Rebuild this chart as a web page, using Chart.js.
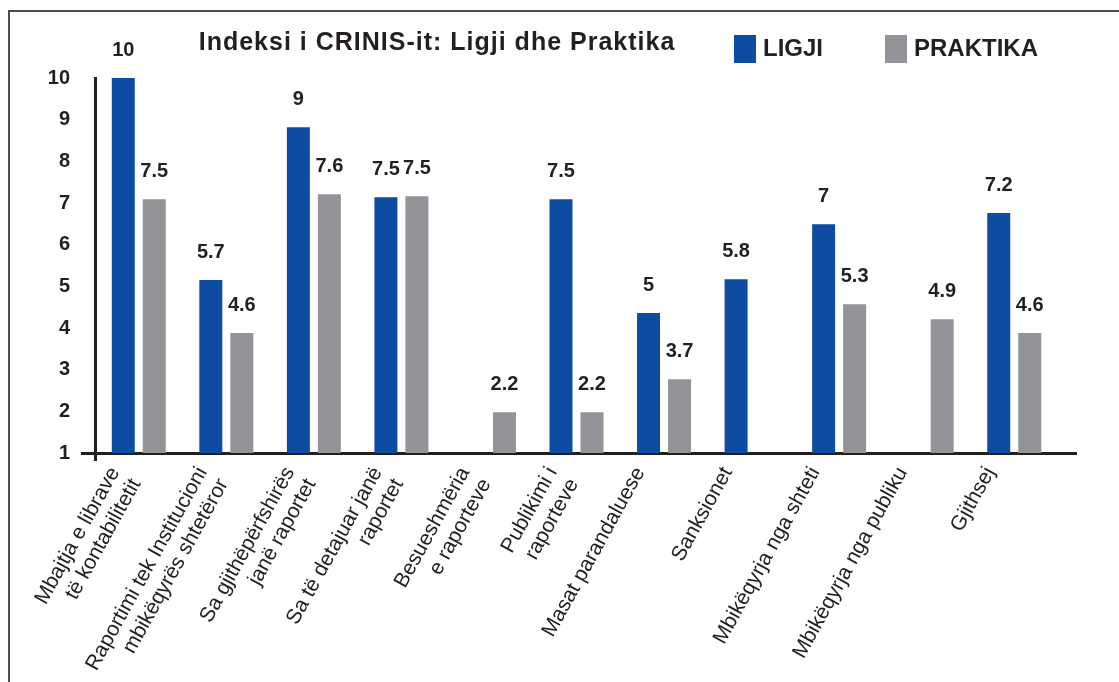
<!DOCTYPE html>
<html>
<head>
<meta charset="utf-8">
<script src="https://cdn.jsdelivr.net/npm/chart.js@4"></script>
<style>
html,body{margin:0;padding:0;background:#fff;}
#wrap{width:1119px;height:682px;position:relative;}
</style>
</head>
<body>
<div id="wrap"><canvas id="c" width="1119" height="682"></canvas></div>
<script>
const categories = [
  ["Mbajtja e librave", "të kontabilitetit"],
  ["Raportimi tek Institucioni", "mbikëqyrës shtetëror"],
  ["Sa gjithëpërfshirës", "janë raportet"],
  ["Sa të detajuar janë", "raportet"],
  ["Besueshmëria", "e raporteve"],
  ["Publikimi i", "raporteve"],
  "Masat parandaluese",
  "Sanksionet",
  "Mbikëqyrja nga shteti",
  "Mbikëqyrja nga publiku",
  "Gjithsej"
];
const ligjiValues    = [10.0, 5.15, 8.82, 7.14, null, 7.09, 4.36, 5.17, 6.49, null, 6.76];
const praktikaValues = [7.09, 3.88, 7.21, 7.16, 1.98, 1.98, 2.77, null, 4.57, 4.21, 3.88];
const ligjiLabels    = ["10", "5.7", "9", "7.5", "", "7.5", "5", "5.8", "7", "", "7.2"];
const praktikaLabels = ["7.5", "4.6", "7.6", "7.5", "2.2", "2.2", "3.7", "", "5.3", "4.9", "4.6"];
const yTicks = [1, 2, 3, 4, 5, 6, 7, 8, 9, 10];
const titleText = "Indeksi i CRINIS-it: Ligji dhe Praktika";

const BLUE = "rgb(13,76,160)";
const GREY = "rgb(147,148,152)";
const DARK = "#231f20";
const FONT = "'Liberation Sans', Arial, sans-serif";

const labelPlugin = {
  id: "valueLabels",
  afterDatasetsDraw(chart) {
    const ctx = chart.ctx;
    ctx.save();
    ctx.font = "bold 20px " + FONT;
    ctx.fillStyle = DARK;
    ctx.textAlign = "center";
    ctx.textBaseline = "middle";
    chart.data.datasets.forEach((ds, di) => {
      const meta = chart.getDatasetMeta(di);
      meta.data.forEach((bar, i) => {
        const t = ds.valueLabels[i];
        if (!t || ds.data[i] == null) return;
        ctx.fillText(t, bar.x, bar.y - 28);
      });
    });
    ctx.restore();
  }
};

const axisExtPlugin = {
  id: "axisExt",
  beforeDatasetsDraw(chart) {
    const ctx = chart.ctx, a = chart.chartArea;
    ctx.save();
    ctx.strokeStyle = DARK;
    ctx.lineWidth = 3;
    ctx.beginPath();
    ctx.moveTo(a.right - 1, a.bottom + 0.5);
    ctx.lineTo(1077, a.bottom + 0.5);
    ctx.stroke();
    ctx.restore();
  }
};

const framePlugin = {
  id: "frameTitleLegend",
  afterDraw(chart) {
    const ctx = chart.ctx;
    ctx.save();
    ctx.strokeStyle = "#4d4d4d";
    ctx.lineWidth = 2;
    ctx.beginPath();
    ctx.moveTo(9, 682);
    ctx.lineTo(9, 11);
    ctx.lineTo(1119, 11);
    ctx.stroke();
    ctx.fillStyle = DARK;
    ctx.font = "bold 25px " + FONT;
    ctx.textAlign = "center";
    ctx.textBaseline = "alphabetic";
    try { ctx.letterSpacing = "1px"; } catch (e) {}
    ctx.fillText(titleText, 437, 50);
    try { ctx.letterSpacing = "0px"; } catch (e) {}
    const items = [
      {x: 734, ds: chart.data.datasets[0]},
      {x: 885, ds: chart.data.datasets[1]}
    ];
    ctx.font = "bold 24px " + FONT;
    ctx.textAlign = "left";
    items.forEach(it => {
      ctx.fillStyle = it.ds.backgroundColor;
      ctx.fillRect(it.x, 35, 22, 28);
      ctx.fillStyle = DARK;
      ctx.fillText(it.ds.label, it.x + 29, 56);
    });
    ctx.restore();
  }
};

new Chart(document.getElementById("c"), {
  type: "bar",
  data: {
    labels: categories,
    datasets: [
      {label: "LIGJI", data: ligjiValues, valueLabels: ligjiLabels, backgroundColor: BLUE,
       categoryPercentage: 0.708, barPercentage: 0.742},
      {label: "PRAKTIKA", data: praktikaValues, valueLabels: praktikaLabels, backgroundColor: GREY,
       categoryPercentage: 0.708, barPercentage: 0.742}
    ]
  },
  options: {
    responsive: false,
    animation: false,
    layout: {padding: {top: 78, right: 61, left: 0, bottom: 0}},
    plugins: {legend: {display: false}, title: {display: false}, tooltip: {enabled: false}},
    scales: {
      x: {
        afterFit(s) { s.height = 229; },
        border: {display: true, color: DARK, width: 3},
        grid: {
          drawOnChartArea: false, drawTicks: true, tickLength: 8, lineWidth: 3,
          color: c => (c.index === 0 ? DARK : "rgba(0,0,0,0)")
        },
        ticks: {
          autoSkip: false, minRotation: 61, maxRotation: 61, padding: 2, labelOffset: -24,
          color: DARK, font: {family: FONT, size: 21, lineHeight: 1.15}
        }
      },
      y: {
        min: 1, max: 10,
        afterFit(s) { s.width = 95; },
        afterBuildTicks(s) { s.ticks = yTicks.map(v => ({value: v})); },
        border: {display: true, color: DARK, width: 3},
        grid: {
          drawOnChartArea: false, drawTicks: true, tickLength: 14, lineWidth: 3,
          color: c => (c.tick && c.tick.value === 1 ? DARK : "rgba(0,0,0,0)")
        },
        ticks: {
          padding: 11, color: DARK, font: {family: FONT, size: 20, weight: "bold"}
        }
      }
    }
  },
  plugins: [labelPlugin, axisExtPlugin, framePlugin]
});
</script>
</body>
</html>
